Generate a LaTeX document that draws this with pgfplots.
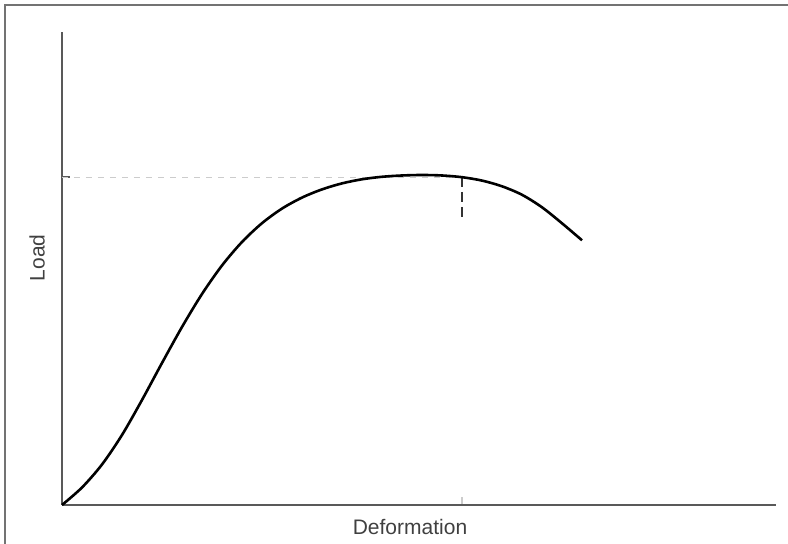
\documentclass[border=0pt]{standalone}
\usepackage{fontspec}
\setmainfont{Liberation Sans}
\usepackage{pgfplots}
\pgfplotsset{compat=1.18}
\begin{document}
\begin{tikzpicture}
\useasboundingbox (-31pt,-19.5pt) rectangle (363pt,252.5pt);
\begin{axis}[
  at={(0pt,0pt)}, anchor=south west,
  scale only axis, width=357pt, height=236.5pt,
  xmin=0, xmax=714, ymin=0, ymax=473,
  axis lines=left,
  axis line style={-, line width=1pt, black!65},
  xtick={400}, ytick={328}, xticklabels={}, yticklabels={},
  tick align=inside, major tick length=4pt,
  xtick style={line width=0.8pt, black!20},
  ytick style={line width=1pt, black!65},
  clip=false,
]
\addplot[black!20, dashed, line width=0.5pt] coordinates {(0,327) (395,327)};
\addplot[black!80, line width=1pt, dash pattern=on 5pt off 2.5pt] coordinates {(400,328) (400,288)};
\addplot[black, line width=1.3pt, smooth] coordinates {
(0,0) (20,17.5) (40,40.5) (60,70) (80,105) (100,142) (120,178) (140,211)
(160,239.5) (180,263) (200,281.8) (220,296.4) (240,307.4) (260,315.6)
(280,321.6) (300,325.7) (320,328.2) (340,329.5) (360,330) (380,329.5)
(400,327.8) (420,324.4) (440,318.7) (460,310.2) (480,297.7) (500,281.7) (520,264.7)};
\node[rotate=90, text=black!75, font=\fontsize{10.5}{12}\selectfont] at (axis cs:-25,247) {Load};
\node[text=black!75, font=\fontsize{10.5}{12}\selectfont] at (axis cs:348,-22) {Deformation};
\end{axis}
\draw[black!55, line width=0.75pt] (-28.5pt,-19.5pt) -- (-28.5pt,250pt) -- (363pt,250pt);
\end{tikzpicture}
\end{document}
